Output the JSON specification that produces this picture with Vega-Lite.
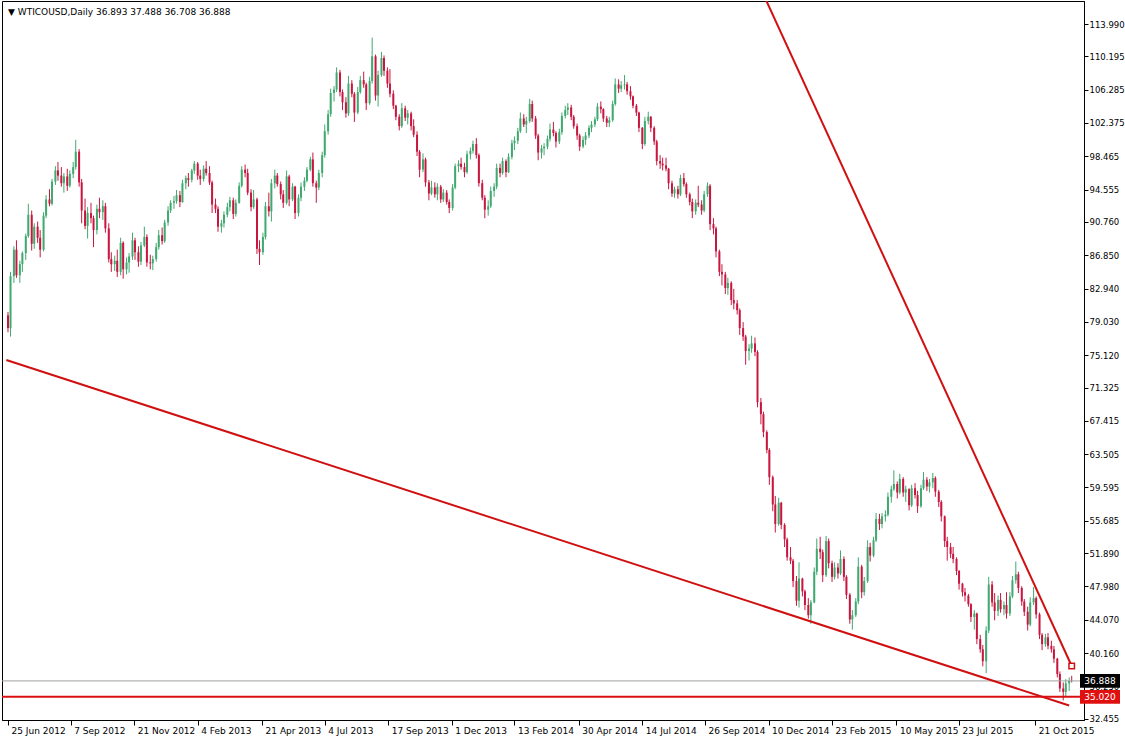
{
"$schema":"https://vega.github.io/schema/vega-lite/v6.json",
"width":1082,"height":719,
"autosize":{"type":"none"},
"padding":{"left":2,"top":1,"right":41,"bottom":19},
"background":"white",
"title":{"text":"▼ WTICOUSD,Daily  36.893 37.488 36.708 36.888","anchor":"start","frame":"group","orient":"top","offset":-16,"dx":6,"font":"DejaVu Sans","fontSize":9,"fontWeight":"normal","color":"#000"},
"config":{"view":{"stroke":"#000","strokeWidth":1},"axis":{"labelFont":"DejaVu Sans","labelFontSize":9,"labelColor":"#000","domainColor":"#000","tickColor":"#000","grid":false,"labelOverlap":false,"labelSeparation":0},"axisY":{"labelOverlap":false,"labelFontSize":8.5,"tickCount":40}},
"datasets":{
"candles":[
{"d":"2012-06-25","o":79.8,"h":80.2,"l":77.8,"c":78.3},{"d":"2012-06-28","o":78.3,"h":84.9,"l":77.3,"c":84.4},
{"d":"2012-07-02","o":84.4,"h":87.9,"l":83.6,"c":87.5},{"d":"2012-07-05","o":87.5,"h":88.6,"l":84.2,"c":84.5},
{"d":"2012-07-09","o":84.5,"h":86.2,"l":83.6,"c":85.8},{"d":"2012-07-12","o":85.8,"h":87.3,"l":84.9,"c":87.1},
{"d":"2012-07-16","o":87.1,"h":89.4,"l":86.3,"c":89.1},{"d":"2012-07-19","o":89.1,"h":92.9,"l":88.9,"c":91.6},
{"d":"2012-07-23","o":91.6,"h":92.1,"l":87.4,"c":88.2},{"d":"2012-07-26","o":88.2,"h":90.6,"l":87.6,"c":90.2},
{"d":"2012-07-30","o":90.2,"h":90.8,"l":88.3,"c":88.9},{"d":"2012-08-02","o":88.9,"h":89.8,"l":86.6,"c":87.5},
{"d":"2012-08-06","o":87.5,"h":91.9,"l":87.3,"c":91.5},{"d":"2012-08-09","o":91.5,"h":93.9,"l":91.2,"c":93.4},
{"d":"2012-08-13","o":93.4,"h":94.6,"l":92.6,"c":92.9},{"d":"2012-08-16","o":92.9,"h":95.8,"l":92.7,"c":95.5},
{"d":"2012-08-20","o":95.5,"h":97.3,"l":95.1,"c":96.8},{"d":"2012-08-23","o":96.8,"h":97.8,"l":95.6,"c":96.2},
{"d":"2012-08-27","o":96.2,"h":97.2,"l":94.9,"c":95.3},{"d":"2012-08-30","o":95.3,"h":96.5,"l":94.2,"c":96.1},
{"d":"2012-09-03","o":96.1,"h":97.0,"l":94.4,"c":95.0},{"d":"2012-09-06","o":95.0,"h":96.8,"l":94.8,"c":96.4},
{"d":"2012-09-10","o":96.4,"h":97.8,"l":95.9,"c":97.2},{"d":"2012-09-13","o":97.2,"h":100.4,"l":96.9,"c":99.0},
{"d":"2012-09-17","o":99.0,"h":99.3,"l":94.9,"c":95.4},{"d":"2012-09-20","o":95.4,"h":95.8,"l":90.6,"c":92.1},
{"d":"2012-09-24","o":92.1,"h":93.5,"l":89.9,"c":90.3},{"d":"2012-09-27","o":90.3,"h":92.5,"l":88.8,"c":91.8},
{"d":"2012-10-01","o":91.8,"h":93.0,"l":90.6,"c":91.2},{"d":"2012-10-04","o":91.2,"h":91.5,"l":87.8,"c":89.8},
{"d":"2012-10-08","o":89.8,"h":92.8,"l":89.3,"c":92.3},{"d":"2012-10-11","o":92.3,"h":93.6,"l":91.2,"c":91.9},
{"d":"2012-10-15","o":91.9,"h":93.3,"l":91.0,"c":92.6},{"d":"2012-10-18","o":92.6,"h":93.0,"l":89.5,"c":90.0},
{"d":"2012-10-22","o":90.0,"h":90.6,"l":86.0,"c":86.4},{"d":"2012-10-25","o":86.4,"h":87.2,"l":84.9,"c":85.8},
{"d":"2012-10-29","o":85.8,"h":86.8,"l":85.0,"c":86.2},{"d":"2012-11-01","o":86.2,"h":87.5,"l":84.3,"c":84.9},
{"d":"2012-11-05","o":84.9,"h":88.9,"l":84.5,"c":88.3},{"d":"2012-11-08","o":88.3,"h":88.5,"l":84.1,"c":85.2},
{"d":"2012-11-12","o":85.2,"h":86.6,"l":84.6,"c":86.0},{"d":"2012-11-15","o":86.0,"h":87.1,"l":84.8,"c":86.7},
{"d":"2012-11-19","o":86.7,"h":89.5,"l":86.3,"c":88.6},{"d":"2012-11-22","o":88.6,"h":88.9,"l":86.3,"c":87.2},
{"d":"2012-11-26","o":87.2,"h":87.9,"l":85.5,"c":86.1},{"d":"2012-11-29","o":86.1,"h":88.4,"l":85.7,"c":88.0},
{"d":"2012-12-03","o":88.0,"h":90.2,"l":87.8,"c":89.0},{"d":"2012-12-06","o":89.0,"h":89.3,"l":85.5,"c":86.0},
{"d":"2012-12-10","o":86.0,"h":86.9,"l":85.2,"c":85.9},{"d":"2012-12-13","o":85.9,"h":86.8,"l":85.1,"c":86.4},
{"d":"2012-12-17","o":86.4,"h":88.3,"l":86.1,"c":87.8},{"d":"2012-12-20","o":87.8,"h":89.8,"l":87.5,"c":89.2},
{"d":"2012-12-24","o":89.2,"h":90.1,"l":88.1,"c":88.5},{"d":"2012-12-27","o":88.5,"h":91.0,"l":88.3,"c":90.7},
{"d":"2012-12-31","o":90.7,"h":92.6,"l":90.3,"c":92.1},{"d":"2013-01-03","o":92.1,"h":93.3,"l":91.8,"c":93.0},
{"d":"2013-01-07","o":93.0,"h":93.8,"l":92.3,"c":93.2},{"d":"2013-01-10","o":93.2,"h":94.5,"l":92.9,"c":93.9},
{"d":"2013-01-14","o":93.9,"h":94.4,"l":92.5,"c":93.1},{"d":"2013-01-17","o":93.1,"h":95.7,"l":93.0,"c":95.3},
{"d":"2013-01-21","o":95.3,"h":96.2,"l":94.6,"c":95.9},{"d":"2013-01-24","o":95.9,"h":96.5,"l":94.9,"c":95.7},
{"d":"2013-01-28","o":95.7,"h":97.0,"l":95.4,"c":96.8},{"d":"2013-01-31","o":96.8,"h":97.9,"l":96.4,"c":97.6},
{"d":"2013-02-04","o":97.6,"h":97.8,"l":95.7,"c":96.2},{"d":"2013-02-07","o":96.2,"h":96.9,"l":95.1,"c":95.8},
{"d":"2013-02-11","o":95.8,"h":97.4,"l":95.5,"c":97.0},{"d":"2013-02-14","o":97.0,"h":97.9,"l":96.2,"c":96.5},
{"d":"2013-02-18","o":96.5,"h":97.3,"l":95.1,"c":95.4},{"d":"2013-02-21","o":95.4,"h":95.6,"l":91.8,"c":92.8},
{"d":"2013-02-25","o":92.8,"h":93.5,"l":91.8,"c":92.3},{"d":"2013-02-28","o":92.3,"h":92.6,"l":89.6,"c":90.2},
{"d":"2013-03-04","o":90.2,"h":91.0,"l":89.5,"c":90.6},{"d":"2013-03-07","o":90.6,"h":92.0,"l":90.1,"c":91.6},
{"d":"2013-03-11","o":91.6,"h":93.0,"l":91.3,"c":92.5},{"d":"2013-03-14","o":92.5,"h":93.7,"l":92.0,"c":93.3},
{"d":"2013-03-18","o":93.3,"h":93.6,"l":91.1,"c":91.7},{"d":"2013-03-21","o":91.7,"h":93.4,"l":91.4,"c":93.0},
{"d":"2013-03-25","o":93.0,"h":95.4,"l":92.9,"c":95.0},{"d":"2013-03-28","o":95.0,"h":97.3,"l":94.8,"c":96.9},
{"d":"2013-04-01","o":96.9,"h":97.5,"l":96.0,"c":96.5},{"d":"2013-04-04","o":96.5,"h":97.0,"l":93.9,"c":94.2},
{"d":"2013-04-08","o":94.2,"h":94.6,"l":92.0,"c":92.5},{"d":"2013-04-11","o":92.5,"h":94.5,"l":92.3,"c":93.4},
{"d":"2013-04-15","o":93.4,"h":93.6,"l":87.0,"c":87.6},{"d":"2013-04-18","o":87.6,"h":88.6,"l":85.7,"c":87.2},
{"d":"2013-04-22","o":87.2,"h":89.5,"l":86.9,"c":89.0},{"d":"2013-04-25","o":89.0,"h":93.1,"l":88.7,"c":92.6},
{"d":"2013-04-29","o":92.6,"h":94.2,"l":91.4,"c":92.0},{"d":"2013-05-02","o":92.0,"h":95.8,"l":90.8,"c":95.3},
{"d":"2013-05-06","o":95.3,"h":96.9,"l":94.7,"c":96.2},{"d":"2013-05-09","o":96.2,"h":96.5,"l":94.9,"c":95.2},
{"d":"2013-05-13","o":95.2,"h":95.5,"l":93.4,"c":94.0},{"d":"2013-05-16","o":94.0,"h":94.5,"l":92.4,"c":93.0},
{"d":"2013-05-20","o":93.0,"h":96.8,"l":92.8,"c":96.1},{"d":"2013-05-23","o":96.1,"h":96.3,"l":92.6,"c":93.4},
{"d":"2013-05-27","o":93.4,"h":95.3,"l":93.2,"c":94.9},{"d":"2013-05-30","o":94.9,"h":95.0,"l":91.1,"c":91.8},
{"d":"2013-06-03","o":91.8,"h":94.0,"l":91.4,"c":93.6},{"d":"2013-06-06","o":93.6,"h":95.4,"l":93.2,"c":94.9},
{"d":"2013-06-10","o":94.9,"h":96.0,"l":94.4,"c":95.6},{"d":"2013-06-13","o":95.6,"h":97.2,"l":95.4,"c":96.9},
{"d":"2013-06-17","o":96.9,"h":98.4,"l":96.7,"c":98.1},{"d":"2013-06-20","o":98.1,"h":98.9,"l":94.9,"c":95.3},
{"d":"2013-06-24","o":95.3,"h":95.6,"l":93.0,"c":94.8},{"d":"2013-06-27","o":94.8,"h":96.9,"l":94.5,"c":96.5},
{"d":"2013-07-01","o":96.5,"h":99.0,"l":96.0,"c":98.6},{"d":"2013-07-04","o":98.6,"h":102.2,"l":98.3,"c":101.4},
{"d":"2013-07-08","o":101.4,"h":103.9,"l":101.0,"c":103.4},{"d":"2013-07-11","o":103.4,"h":106.4,"l":103.1,"c":105.9},
{"d":"2013-07-15","o":105.9,"h":106.7,"l":104.9,"c":106.3},{"d":"2013-07-18","o":106.3,"h":108.9,"l":106.0,"c":108.3},
{"d":"2013-07-22","o":108.3,"h":108.6,"l":105.5,"c":106.0},{"d":"2013-07-25","o":106.0,"h":106.3,"l":103.9,"c":104.8},
{"d":"2013-07-29","o":104.8,"h":105.4,"l":103.0,"c":103.5},{"d":"2013-08-01","o":103.5,"h":107.9,"l":103.2,"c":107.0},
{"d":"2013-08-05","o":107.0,"h":107.4,"l":105.4,"c":105.8},{"d":"2013-08-08","o":105.8,"h":106.0,"l":102.5,"c":103.6},
{"d":"2013-08-12","o":103.6,"h":106.6,"l":103.4,"c":106.0},{"d":"2013-08-15","o":106.0,"h":107.9,"l":105.8,"c":107.4},
{"d":"2013-08-19","o":107.4,"h":108.4,"l":106.5,"c":106.9},{"d":"2013-08-22","o":106.9,"h":107.1,"l":103.9,"c":104.7},
{"d":"2013-08-26","o":104.7,"h":107.8,"l":104.5,"c":107.3},{"d":"2013-08-29","o":107.3,"h":112.4,"l":107.0,"c":110.2},
{"d":"2013-09-02","o":110.2,"h":110.4,"l":105.0,"c":105.6},{"d":"2013-09-05","o":105.6,"h":108.5,"l":104.3,"c":108.0},
{"d":"2013-09-09","o":108.0,"h":110.7,"l":107.8,"c":110.0},{"d":"2013-09-12","o":110.0,"h":110.3,"l":107.9,"c":108.5},
{"d":"2013-09-16","o":108.5,"h":108.9,"l":106.5,"c":107.0},{"d":"2013-09-19","o":107.0,"h":108.7,"l":105.4,"c":105.8},
{"d":"2013-09-23","o":105.8,"h":106.2,"l":104.0,"c":104.4},{"d":"2013-09-26","o":104.4,"h":104.5,"l":102.7,"c":103.1},
{"d":"2013-09-30","o":103.1,"h":103.4,"l":101.5,"c":102.0},{"d":"2013-10-03","o":102.0,"h":104.7,"l":101.8,"c":104.1},
{"d":"2013-10-07","o":104.1,"h":104.4,"l":102.6,"c":103.0},{"d":"2013-10-10","o":103.0,"h":103.9,"l":102.2,"c":103.5},
{"d":"2013-10-14","o":103.5,"h":103.7,"l":101.5,"c":102.0},{"d":"2013-10-17","o":102.0,"h":102.8,"l":100.7,"c":101.0},
{"d":"2013-10-21","o":101.0,"h":101.4,"l":98.5,"c":99.0},{"d":"2013-10-24","o":99.0,"h":99.2,"l":96.0,"c":96.9},
{"d":"2013-10-28","o":96.9,"h":98.8,"l":96.6,"c":98.1},{"d":"2013-10-31","o":98.1,"h":98.3,"l":94.9,"c":95.4},
{"d":"2013-11-04","o":95.4,"h":95.7,"l":93.3,"c":94.1},{"d":"2013-11-07","o":94.1,"h":95.6,"l":93.9,"c":94.8},
{"d":"2013-11-11","o":94.8,"h":95.4,"l":93.6,"c":94.0},{"d":"2013-11-14","o":94.0,"h":95.3,"l":93.3,"c":94.9},
{"d":"2013-11-18","o":94.9,"h":95.1,"l":93.0,"c":93.4},{"d":"2013-11-21","o":93.4,"h":94.6,"l":93.1,"c":94.2},
{"d":"2013-11-25","o":94.2,"h":94.5,"l":92.8,"c":93.1},{"d":"2013-11-28","o":93.1,"h":93.4,"l":91.8,"c":92.4},
{"d":"2013-12-02","o":92.4,"h":95.2,"l":92.1,"c":94.8},{"d":"2013-12-05","o":94.8,"h":97.6,"l":94.6,"c":97.3},
{"d":"2013-12-09","o":97.3,"h":98.0,"l":96.6,"c":97.6},{"d":"2013-12-12","o":97.6,"h":98.3,"l":96.9,"c":97.2},
{"d":"2013-12-16","o":97.2,"h":97.7,"l":96.0,"c":96.6},{"d":"2013-12-19","o":96.6,"h":99.1,"l":96.4,"c":98.7},
{"d":"2013-12-23","o":98.7,"h":99.5,"l":98.1,"c":99.1},{"d":"2013-12-26","o":99.1,"h":100.3,"l":98.8,"c":99.9},
{"d":"2013-12-30","o":99.9,"h":100.6,"l":98.2,"c":98.6},{"d":"2014-01-02","o":98.6,"h":98.8,"l":94.9,"c":95.3},
{"d":"2014-01-06","o":95.3,"h":95.7,"l":93.3,"c":93.6},{"d":"2014-01-09","o":93.6,"h":93.9,"l":91.2,"c":92.2},
{"d":"2014-01-13","o":92.2,"h":93.3,"l":91.5,"c":92.6},{"d":"2014-01-16","o":92.6,"h":94.9,"l":92.4,"c":94.4},
{"d":"2014-01-20","o":94.4,"h":95.3,"l":93.7,"c":94.9},{"d":"2014-01-23","o":94.9,"h":97.6,"l":94.6,"c":97.1},
{"d":"2014-01-27","o":97.1,"h":97.6,"l":96.0,"c":96.5},{"d":"2014-01-30","o":96.5,"h":98.3,"l":96.3,"c":97.9},
{"d":"2014-02-03","o":97.9,"h":98.1,"l":96.0,"c":96.6},{"d":"2014-02-06","o":96.6,"h":98.8,"l":96.5,"c":98.4},
{"d":"2014-02-10","o":98.4,"h":100.4,"l":98.1,"c":100.0},{"d":"2014-02-13","o":100.0,"h":100.8,"l":99.2,"c":100.3},
{"d":"2014-02-17","o":100.3,"h":101.8,"l":99.9,"c":101.4},{"d":"2014-02-20","o":101.4,"h":103.6,"l":101.2,"c":102.9},
{"d":"2014-02-24","o":102.9,"h":103.4,"l":101.9,"c":102.2},{"d":"2014-02-27","o":102.2,"h":103.1,"l":101.2,"c":102.6},
{"d":"2014-03-03","o":102.6,"h":105.2,"l":102.4,"c":104.6},{"d":"2014-03-06","o":104.6,"h":105.0,"l":102.5,"c":102.9},
{"d":"2014-03-10","o":102.9,"h":103.2,"l":100.5,"c":100.9},{"d":"2014-03-13","o":100.9,"h":101.1,"l":98.0,"c":98.9},
{"d":"2014-03-17","o":98.9,"h":99.8,"l":98.2,"c":99.4},{"d":"2014-03-20","o":99.4,"h":100.0,"l":98.6,"c":99.6},
{"d":"2014-03-24","o":99.6,"h":100.9,"l":99.3,"c":100.5},{"d":"2014-03-27","o":100.5,"h":102.3,"l":100.2,"c":101.6},
{"d":"2014-03-31","o":101.6,"h":102.5,"l":100.8,"c":101.2},{"d":"2014-04-03","o":101.2,"h":101.4,"l":99.5,"c":100.2},
{"d":"2014-04-07","o":100.2,"h":101.7,"l":99.9,"c":101.3},{"d":"2014-04-10","o":101.3,"h":103.6,"l":101.0,"c":103.2},
{"d":"2014-04-14","o":103.2,"h":104.4,"l":102.9,"c":103.9},{"d":"2014-04-17","o":103.9,"h":104.7,"l":103.3,"c":104.2},
{"d":"2014-04-21","o":104.2,"h":104.5,"l":102.7,"c":103.1},{"d":"2014-04-24","o":103.1,"h":103.3,"l":101.7,"c":102.0},
{"d":"2014-04-28","o":102.0,"h":102.3,"l":100.4,"c":100.9},{"d":"2014-05-01","o":100.9,"h":101.1,"l":99.1,"c":99.6},
{"d":"2014-05-05","o":99.6,"h":100.8,"l":99.4,"c":100.4},{"d":"2014-05-08","o":100.4,"h":101.3,"l":99.8,"c":100.9},
{"d":"2014-05-12","o":100.9,"h":102.1,"l":100.6,"c":101.8},{"d":"2014-05-15","o":101.8,"h":102.6,"l":101.3,"c":102.2},
{"d":"2014-05-19","o":102.2,"h":103.1,"l":101.9,"c":102.8},{"d":"2014-05-22","o":102.8,"h":104.7,"l":102.6,"c":104.3},
{"d":"2014-05-26","o":104.3,"h":104.9,"l":103.5,"c":104.0},{"d":"2014-05-29","o":104.0,"h":104.1,"l":102.5,"c":102.9},
{"d":"2014-06-02","o":102.9,"h":103.2,"l":101.9,"c":102.4},{"d":"2014-06-05","o":102.4,"h":103.1,"l":101.9,"c":102.7},
{"d":"2014-06-09","o":102.7,"h":105.0,"l":102.5,"c":104.6},{"d":"2014-06-12","o":104.6,"h":107.6,"l":104.4,"c":106.9},
{"d":"2014-06-16","o":106.9,"h":107.5,"l":105.9,"c":106.4},{"d":"2014-06-19","o":106.4,"h":107.3,"l":106.0,"c":106.8},
{"d":"2014-06-23","o":106.8,"h":108.0,"l":106.3,"c":106.9},{"d":"2014-06-26","o":106.9,"h":107.2,"l":105.7,"c":106.1},
{"d":"2014-06-30","o":106.1,"h":106.7,"l":105.1,"c":105.5},{"d":"2014-07-03","o":105.5,"h":105.6,"l":104.1,"c":104.4},
{"d":"2014-07-07","o":104.4,"h":104.6,"l":103.2,"c":103.6},{"d":"2014-07-10","o":103.6,"h":103.7,"l":101.3,"c":101.8},
{"d":"2014-07-14","o":101.8,"h":101.9,"l":99.3,"c":99.9},{"d":"2014-07-17","o":99.9,"h":103.1,"l":99.7,"c":102.6},
{"d":"2014-07-21","o":102.6,"h":103.7,"l":102.2,"c":103.1},{"d":"2014-07-24","o":103.1,"h":103.2,"l":101.3,"c":101.8},
{"d":"2014-07-28","o":101.8,"h":102.0,"l":99.8,"c":100.2},{"d":"2014-07-31","o":100.2,"h":100.4,"l":97.4,"c":97.9},
{"d":"2014-08-04","o":97.9,"h":98.6,"l":97.0,"c":97.6},{"d":"2014-08-07","o":97.6,"h":98.3,"l":96.8,"c":97.4},
{"d":"2014-08-11","o":97.4,"h":98.3,"l":96.7,"c":97.0},{"d":"2014-08-14","o":97.0,"h":97.1,"l":94.6,"c":95.3},
{"d":"2014-08-18","o":95.3,"h":95.6,"l":93.7,"c":94.1},{"d":"2014-08-21","o":94.1,"h":94.9,"l":93.6,"c":94.6},
{"d":"2014-08-25","o":94.6,"h":95.0,"l":93.5,"c":94.0},{"d":"2014-08-28","o":94.0,"h":96.3,"l":93.8,"c":95.9},
{"d":"2014-09-01","o":95.9,"h":96.5,"l":94.9,"c":95.2},{"d":"2014-09-04","o":95.2,"h":95.4,"l":93.6,"c":94.0},
{"d":"2014-09-08","o":94.0,"h":94.2,"l":92.7,"c":93.1},{"d":"2014-09-11","o":93.1,"h":93.5,"l":91.2,"c":92.0},
{"d":"2014-09-15","o":92.0,"h":93.4,"l":91.6,"c":93.0},{"d":"2014-09-18","o":93.0,"h":95.0,"l":92.5,"c":92.8},
{"d":"2014-09-22","o":92.8,"h":93.3,"l":91.6,"c":92.1},{"d":"2014-09-25","o":92.1,"h":94.4,"l":91.9,"c":94.0},
{"d":"2014-09-29","o":94.0,"h":95.4,"l":93.7,"c":95.0},{"d":"2014-10-02","o":95.0,"h":95.2,"l":89.8,"c":90.5},
{"d":"2014-10-06","o":90.5,"h":91.2,"l":89.3,"c":90.0},{"d":"2014-10-09","o":90.0,"h":90.2,"l":86.6,"c":87.3},
{"d":"2014-10-13","o":87.3,"h":87.5,"l":84.4,"c":84.9},{"d":"2014-10-16","o":84.9,"h":85.8,"l":83.3,"c":84.6},
{"d":"2014-10-20","o":84.6,"h":84.9,"l":82.3,"c":83.0},{"d":"2014-10-23","o":83.0,"h":84.2,"l":82.2,"c":83.6},
{"d":"2014-10-27","o":83.6,"h":83.8,"l":81.0,"c":81.6},{"d":"2014-10-30","o":81.6,"h":82.9,"l":80.5,"c":81.2},
{"d":"2014-11-03","o":81.2,"h":81.6,"l":79.9,"c":80.4},{"d":"2014-11-06","o":80.4,"h":80.6,"l":77.5,"c":78.3},
{"d":"2014-11-10","o":78.3,"h":79.0,"l":76.8,"c":77.3},{"d":"2014-11-13","o":77.3,"h":77.5,"l":74.0,"c":75.6},
{"d":"2014-11-17","o":75.6,"h":76.4,"l":74.5,"c":75.9},{"d":"2014-11-20","o":75.9,"h":77.4,"l":75.4,"c":76.5},
{"d":"2014-11-24","o":76.5,"h":77.2,"l":75.0,"c":75.5},{"d":"2014-11-27","o":75.5,"h":75.7,"l":69.0,"c":69.6},
{"d":"2014-12-01","o":69.6,"h":70.1,"l":67.0,"c":68.2},{"d":"2014-12-04","o":68.2,"h":68.5,"l":65.5,"c":66.1},
{"d":"2014-12-08","o":66.1,"h":66.3,"l":63.6,"c":64.0},{"d":"2014-12-11","o":64.0,"h":64.2,"l":59.9,"c":60.8},
{"d":"2014-12-15","o":60.8,"h":61.0,"l":56.8,"c":57.6},{"d":"2014-12-18","o":57.6,"h":58.6,"l":54.3,"c":55.3},
{"d":"2014-12-22","o":55.3,"h":58.4,"l":55.1,"c":57.8},{"d":"2014-12-25","o":57.8,"h":57.9,"l":54.7,"c":55.2},
{"d":"2014-12-29","o":55.2,"h":55.4,"l":52.6,"c":53.5},{"d":"2015-01-01","o":53.5,"h":53.7,"l":51.0,"c":51.4},
{"d":"2015-01-05","o":51.4,"h":52.6,"l":50.6,"c":51.0},{"d":"2015-01-08","o":51.0,"h":51.2,"l":47.9,"c":48.6},
{"d":"2015-01-12","o":48.6,"h":49.2,"l":45.7,"c":46.3},{"d":"2015-01-15","o":46.3,"h":50.8,"l":45.5,"c":48.9},
{"d":"2015-01-19","o":48.9,"h":49.0,"l":46.8,"c":47.4},{"d":"2015-01-22","o":47.4,"h":47.6,"l":45.2,"c":45.8},
{"d":"2015-01-26","o":45.8,"h":46.6,"l":44.2,"c":44.6},{"d":"2015-01-29","o":44.6,"h":46.4,"l":43.6,"c":46.1},
{"d":"2015-02-02","o":46.1,"h":50.2,"l":46.0,"c":49.7},{"d":"2015-02-05","o":49.7,"h":53.6,"l":49.3,"c":52.4},
{"d":"2015-02-09","o":52.4,"h":53.8,"l":51.2,"c":52.0},{"d":"2015-02-12","o":52.0,"h":52.3,"l":48.5,"c":49.3},
{"d":"2015-02-16","o":49.3,"h":53.9,"l":49.1,"c":53.3},{"d":"2015-02-19","o":53.3,"h":53.6,"l":50.1,"c":50.7},
{"d":"2015-02-23","o":50.7,"h":51.0,"l":48.5,"c":49.1},{"d":"2015-02-26","o":49.1,"h":50.8,"l":48.8,"c":50.2},
{"d":"2015-03-02","o":50.2,"h":50.7,"l":48.9,"c":49.5},{"d":"2015-03-05","o":49.5,"h":52.2,"l":49.3,"c":51.2},
{"d":"2015-03-09","o":51.2,"h":51.5,"l":48.6,"c":49.1},{"d":"2015-03-12","o":49.1,"h":49.3,"l":46.5,"c":47.0},
{"d":"2015-03-16","o":47.0,"h":47.2,"l":43.6,"c":44.1},{"d":"2015-03-19","o":44.1,"h":45.2,"l":42.9,"c":44.6},
{"d":"2015-03-23","o":44.6,"h":46.6,"l":44.4,"c":46.2},{"d":"2015-03-26","o":46.2,"h":51.4,"l":45.9,"c":50.3},
{"d":"2015-03-30","o":50.3,"h":50.5,"l":46.6,"c":47.3},{"d":"2015-04-02","o":47.3,"h":49.1,"l":46.9,"c":48.6},
{"d":"2015-04-06","o":48.6,"h":53.4,"l":48.4,"c":52.6},{"d":"2015-04-09","o":52.6,"h":53.1,"l":50.9,"c":51.6},
{"d":"2015-04-13","o":51.6,"h":53.8,"l":51.4,"c":53.4},{"d":"2015-04-16","o":53.4,"h":56.6,"l":53.2,"c":55.9},
{"d":"2015-04-20","o":55.9,"h":56.5,"l":54.6,"c":55.3},{"d":"2015-04-23","o":55.3,"h":56.6,"l":54.8,"c":56.2},
{"d":"2015-04-27","o":56.2,"h":56.9,"l":55.6,"c":56.4},{"d":"2015-04-30","o":56.4,"h":59.0,"l":56.2,"c":58.5},
{"d":"2015-05-04","o":58.5,"h":59.8,"l":57.8,"c":59.4},{"d":"2015-05-07","o":59.4,"h":61.6,"l":59.2,"c":60.0},
{"d":"2015-05-11","o":60.0,"h":60.3,"l":58.3,"c":59.0},{"d":"2015-05-14","o":59.0,"h":61.2,"l":58.8,"c":60.6},
{"d":"2015-05-18","o":60.6,"h":60.8,"l":58.5,"c":59.0},{"d":"2015-05-21","o":59.0,"h":59.8,"l":57.9,"c":59.4},
{"d":"2015-05-25","o":59.4,"h":59.5,"l":56.9,"c":57.5},{"d":"2015-05-28","o":57.5,"h":59.9,"l":57.3,"c":59.5},
{"d":"2015-06-01","o":59.5,"h":60.1,"l":58.3,"c":58.7},{"d":"2015-06-04","o":58.7,"h":59.2,"l":56.6,"c":57.4},
{"d":"2015-06-08","o":57.4,"h":59.9,"l":57.2,"c":59.5},{"d":"2015-06-11","o":59.5,"h":61.4,"l":59.3,"c":60.5},
{"d":"2015-06-15","o":60.5,"h":60.8,"l":59.2,"c":59.7},{"d":"2015-06-18","o":59.7,"h":60.6,"l":59.0,"c":60.2},
{"d":"2015-06-22","o":60.2,"h":61.3,"l":59.5,"c":60.7},{"d":"2015-06-25","o":60.7,"h":60.9,"l":58.5,"c":59.1},
{"d":"2015-06-29","o":59.1,"h":59.3,"l":57.3,"c":57.9},{"d":"2015-07-02","o":57.9,"h":58.1,"l":55.6,"c":56.2},
{"d":"2015-07-06","o":56.2,"h":56.3,"l":52.6,"c":53.3},{"d":"2015-07-09","o":53.3,"h":53.8,"l":51.0,"c":52.6},
{"d":"2015-07-13","o":52.6,"h":53.1,"l":51.3,"c":51.8},{"d":"2015-07-16","o":51.8,"h":52.6,"l":50.7,"c":51.2},
{"d":"2015-07-20","o":51.2,"h":51.4,"l":49.3,"c":49.8},{"d":"2015-07-23","o":49.8,"h":49.9,"l":47.6,"c":48.3},
{"d":"2015-07-27","o":48.3,"h":48.4,"l":46.8,"c":47.3},{"d":"2015-07-30","o":47.3,"h":47.8,"l":46.2,"c":46.9},
{"d":"2015-08-03","o":46.9,"h":47.1,"l":45.6,"c":45.9},{"d":"2015-08-06","o":45.9,"h":46.0,"l":43.8,"c":44.4},
{"d":"2015-08-10","o":44.4,"h":45.2,"l":42.9,"c":44.8},{"d":"2015-08-13","o":44.8,"h":44.9,"l":41.2,"c":41.8},
{"d":"2015-08-17","o":41.8,"h":42.3,"l":40.2,"c":40.6},{"d":"2015-08-20","o":40.6,"h":41.1,"l":38.6,"c":39.2},
{"d":"2015-08-24","o":39.2,"h":43.3,"l":37.8,"c":42.8},{"d":"2015-08-27","o":42.8,"h":49.1,"l":42.5,"c":48.2},
{"d":"2015-08-31","o":48.2,"h":48.6,"l":45.6,"c":46.1},{"d":"2015-09-03","o":46.1,"h":47.2,"l":44.0,"c":45.1},
{"d":"2015-09-07","o":45.1,"h":46.9,"l":44.5,"c":46.4},{"d":"2015-09-10","o":46.4,"h":47.2,"l":44.9,"c":45.3},
{"d":"2015-09-14","o":45.3,"h":46.2,"l":44.6,"c":45.8},{"d":"2015-09-17","o":45.8,"h":47.3,"l":44.2,"c":44.8},
{"d":"2015-09-21","o":44.8,"h":47.3,"l":44.5,"c":46.8},{"d":"2015-09-24","o":46.8,"h":49.2,"l":46.6,"c":48.7},
{"d":"2015-09-28","o":48.7,"h":50.9,"l":48.3,"c":49.4},{"d":"2015-10-01","o":49.4,"h":49.7,"l":47.2,"c":47.8},
{"d":"2015-10-05","o":47.8,"h":48.0,"l":45.7,"c":46.2},{"d":"2015-10-08","o":46.2,"h":46.5,"l":44.5,"c":45.0},
{"d":"2015-10-12","o":45.0,"h":45.6,"l":42.8,"c":43.5},{"d":"2015-10-15","o":43.5,"h":46.7,"l":43.3,"c":46.1},
{"d":"2015-10-19","o":46.1,"h":47.9,"l":45.8,"c":46.6},{"d":"2015-10-22","o":46.6,"h":46.8,"l":44.2,"c":44.7},
{"d":"2015-10-26","o":44.7,"h":44.9,"l":41.8,"c":42.3},{"d":"2015-10-29","o":42.3,"h":42.5,"l":40.5,"c":41.2},
{"d":"2015-11-02","o":41.2,"h":42.4,"l":40.9,"c":42.0},{"d":"2015-11-05","o":42.0,"h":42.5,"l":40.6,"c":41.0},
{"d":"2015-11-09","o":41.0,"h":41.6,"l":40.2,"c":40.6},{"d":"2015-11-12","o":40.6,"h":41.0,"l":39.0,"c":39.5},
{"d":"2015-11-16","o":39.5,"h":39.6,"l":37.3,"c":37.7},{"d":"2015-11-19","o":37.7,"h":38.0,"l":35.6,"c":36.0},
{"d":"2015-11-23","o":36.0,"h":36.7,"l":34.6,"c":35.6},{"d":"2015-11-26","o":35.6,"h":37.1,"l":35.1,"c":36.6},
{"d":"2015-11-30","o":36.6,"h":37.3,"l":35.7,"c":36.9},{"d":"2015-12-03","o":36.893,"h":37.488,"l":36.708,"c":36.888}
],
"lines":[
{"id":"a","d":"2012-06-23","p":74.56},{"id":"a","d":"2015-11-30","p":34.0},
{"id":"b","d":"2014-12-07","p":116.81},{"id":"b","d":"2015-12-03","p":38.64}
],
"levels":[{"k":"bid","p":36.888},{"k":"line","p":35.02}]
},
"layer":[
{"data":{"name":"candles"},
 "mark":{"type":"rule","strokeWidth":1},
 "encoding":{
  "x":{"field":"d","type":"temporal",
   "scale":{"type":"utc","domain":[{"year":2012,"month":6,"date":23,"hours":20,"utc":true},{"year":2015,"month":12,"date":11,"hours":14,"minutes":24,"utc":true}]},
   "axis":{"title":null,"orient":"bottom","format":"%-d %b %Y","labelAlign":"left","labelOffset":3,"labelPadding":1,"tickSize":5,"labelFlush":false,"labelOverlap":false,"tickCount":40,
    "values":[{"year":2012,"month":6,"date":25,"utc":true},{"year":2012,"month":9,"date":7,"utc":true},{"year":2012,"month":11,"date":21,"utc":true},{"year":2013,"month":2,"date":4,"utc":true},{"year":2013,"month":4,"date":21,"utc":true},{"year":2013,"month":7,"date":4,"utc":true},{"year":2013,"month":9,"date":17,"utc":true},{"year":2013,"month":12,"date":1,"utc":true},{"year":2014,"month":2,"date":13,"utc":true},{"year":2014,"month":4,"date":30,"utc":true},{"year":2014,"month":7,"date":14,"utc":true},{"year":2014,"month":9,"date":26,"utc":true},{"year":2014,"month":12,"date":10,"utc":true},{"year":2015,"month":2,"date":23,"utc":true},{"year":2015,"month":5,"date":10,"utc":true},{"year":2015,"month":7,"date":23,"utc":true},{"year":2015,"month":10,"date":21,"utc":true}]}},
  "y":{"field":"l","type":"quantitative","scale":{"domain":[32.30,116.69],"nice":false,"zero":false},
   "axis":{"title":null,"orient":"right","format":".3f","tickSize":4,"labelPadding":1,"labelFlush":false,"labelOverlap":false,"labelSeparation":0,"labelFontSize":8.5,"tickCount":40,
    "values":[113.99,110.195,106.285,102.375,98.465,94.555,90.76,86.85,82.94,79.03,75.12,71.325,67.415,63.505,59.595,55.685,51.89,47.98,44.07,40.16,36.25,32.455]}},
  "y2":{"field":"h"},
  "color":{"condition":{"test":"datum.c >= datum.o","value":"#3fa96f"},"value":"#c9163f"}}},
{"data":{"name":"candles"},
 "mark":{"type":"bar","width":2},
 "encoding":{
  "x":{"field":"d","type":"temporal"},
  "y":{"field":"o","type":"quantitative"},
  "y2":{"field":"c"},
  "color":{"condition":{"test":"datum.c >= datum.o","value":"#3fa96f"},"value":"#c9163f"}}},
{"data":{"name":"levels"},
 "mark":{"type":"rule"},
 "encoding":{
  "y":{"field":"p","type":"quantitative"},
  "color":{"condition":{"test":"datum.k === 'bid'","value":"#a0a0a0"},"value":"#d81010"},
  "strokeWidth":{"condition":{"test":"datum.k === 'bid'","value":1},"value":2}}},
{"data":{"name":"lines"},
 "mark":{"type":"line","color":"#d01010","strokeWidth":2,"clip":true},
 "encoding":{
  "x":{"field":"d","type":"temporal"},
  "y":{"field":"p","type":"quantitative"},
  "detail":{"field":"id"}}},
{"data":{"name":"lines"},
 "transform":[{"filter":"datum.id === 'b' && datum.p < 50"}],
 "mark":{"type":"point","shape":"square","size":30,"filled":false,"fill":"white","stroke":"#d01010","strokeWidth":1.5,"opacity":1},
 "encoding":{
  "x":{"field":"d","type":"temporal"},
  "y":{"field":"p","type":"quantitative"}}},
{"data":{"name":"levels"},
 "mark":{"type":"point","shape":"M-1,-0.34H1V0.34H-1Z","size":1600,"filled":true,"xOffset":21,"opacity":1,"strokeWidth":0},
 "encoding":{
  "x":{"datum":{"year":2015,"month":12,"date":11,"hours":14,"minutes":24,"utc":true},"type":"temporal"},
  "y":{"field":"p","type":"quantitative"},
  "color":{"condition":{"test":"datum.k === 'bid'","value":"#000000"},"value":"#e01010"}}},
{"data":{"name":"levels"},
 "mark":{"type":"text","dx":21,"align":"center","baseline":"middle","font":"DejaVu Sans","fontSize":9,"color":"white"},
 "encoding":{
  "x":{"datum":{"year":2015,"month":12,"date":11,"hours":14,"minutes":24,"utc":true},"type":"temporal"},
  "y":{"field":"p","type":"quantitative"},
  "text":{"field":"p","type":"quantitative","format":".3f"}}}
]
}
